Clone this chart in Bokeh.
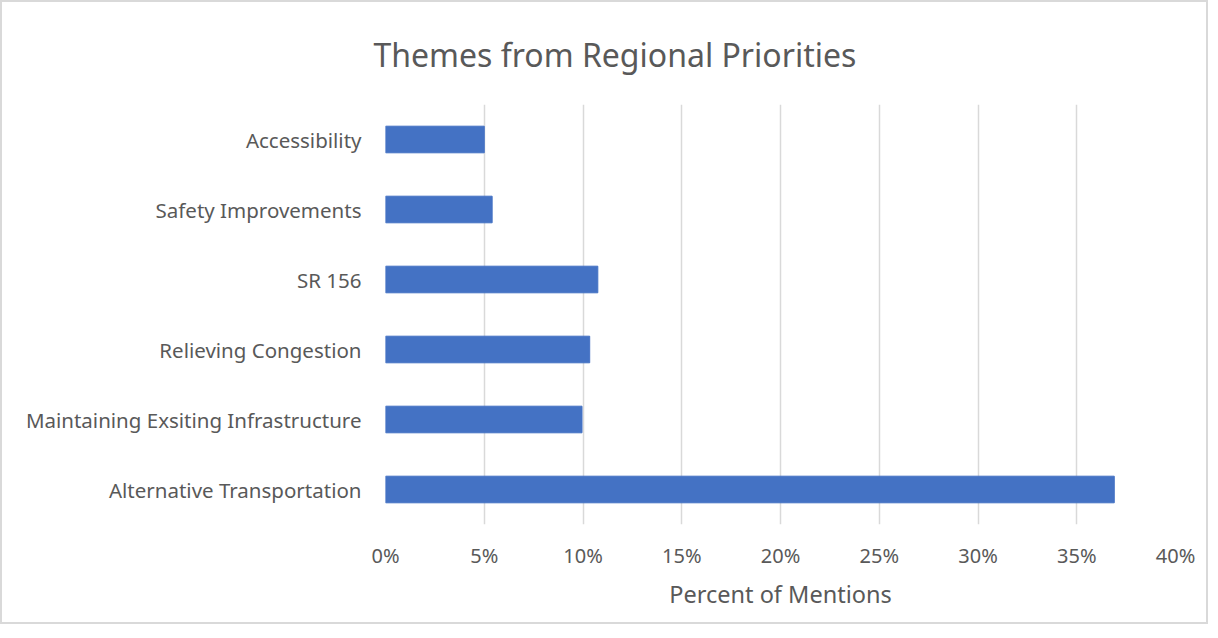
from bokeh.plotting import figure
from bokeh.models import FactorRange, Range1d, FixedTicker, NumeralTickFormatter
from bokeh.embed import file_html
from bokeh.resources import INLINE

categories = ["Alternative Transportation", "Maintaining Exsiting Infrastructure",
              "Relieving Congestion", "SR 156", "Safety Improvements", "Accessibility"]
values = [0.369, 0.0995, 0.1034, 0.1075, 0.054, 0.050]
x_ticks = [0.0, 0.05, 0.10, 0.15, 0.20, 0.25, 0.30, 0.35, 0.40]

FONT = "Noto Sans"
GREY = "#595959"

p = figure(width=1208, height=624, output_backend="svg", toolbar_location=None,
           y_range=FactorRange(factors=categories, range_padding=0),
           x_range=Range1d(0, 0.40),
           min_border_left=383, min_border_right=35, min_border_top=101, min_border_bottom=102,
           title="Themes from Regional Priorities")
p.styles = {"border": "2px solid #d9d9d9"}

p.hbar(y=categories, right=values, height=0.38, left=0, color="#4472C4")

p.title.text_font = FONT
p.title.text_font_size = "32px"
p.title.text_font_style = "normal"
p.title.text_color = GREY
p.title.align = "left"
p.title.offset = -12
p.title.standoff = 57

p.outline_line_color = None
p.ygrid.grid_line_color = None
p.xgrid.grid_line_color = "#d9d9d9"
p.xgrid.grid_line_width = 1.5

p.xaxis.ticker = FixedTicker(ticks=x_ticks)
p.xaxis.formatter = NumeralTickFormatter(format="0%")
p.xaxis.axis_line_color = None
p.xaxis.major_tick_line_color = None
p.xaxis.minor_tick_line_color = None
p.xaxis.major_label_text_font = FONT
p.xaxis.major_label_text_font_size = "20px"
p.xaxis.major_label_text_color = GREY
p.xaxis.major_label_standoff = 11
p.xaxis.axis_label = "Percent of Mentions"
p.xaxis.axis_label_text_font = FONT
p.xaxis.axis_label_text_font_size = "23.5px"
p.xaxis.axis_label_text_font_style = "normal"
p.xaxis.axis_label_text_color = GREY
p.xaxis.axis_label_standoff = 6

p.yaxis.axis_line_color = None
p.yaxis.major_tick_line_color = None
p.yaxis.minor_tick_line_color = None
p.yaxis.major_label_text_font = FONT
p.yaxis.major_label_text_font_size = "20.5px"
p.yaxis.major_label_text_color = GREY
p.yaxis.major_label_standoff = 18

open("out.html", "w").write(file_html(p, INLINE))
